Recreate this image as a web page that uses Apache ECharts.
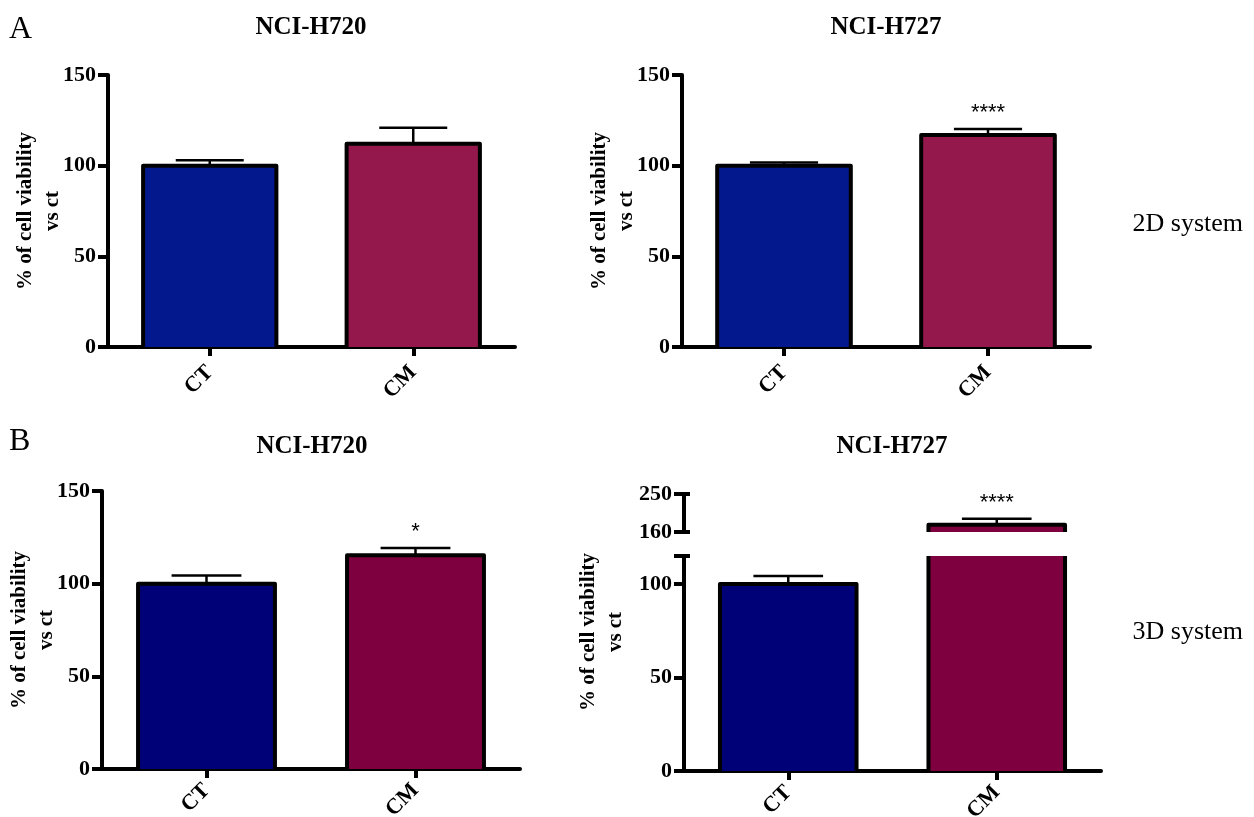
<!DOCTYPE html>
<html><head><meta charset="utf-8">
<script src="https://cdn.jsdelivr.net/npm/echarts@6/dist/echarts.min.js"></script>
<style>html,body{margin:0;padding:0;background:#fff}#c{width:1254px;height:817px}</style>
</head><body><div id="c"></div>
<script>
// ---- data ----
const categories = ['CT', 'CM'];
const yTicksMain = [0, 50, 100, 150];
const yLabelsLowerBroken = [0, 50, 100];
const yTicksLowerBroken = [0, 50, 100, 115];
const yTicksUpperBroken = [160, 250];

const h720_2D_mean = [100, 112.1];
const h720_2D_sem  = [3.0, 8.8];
const h720_2D_sig  = ['', ''];

const h727_2D_mean = [100, 116.9];
const h727_2D_sem  = [1.8, 3.3];
const h727_2D_sig  = ['', '****'];

const h720_3D_mean = [100, 115.4];
const h720_3D_sem  = [4.4, 3.9];
const h720_3D_sig  = ['', '*'];

const h727_3D_mean = [100, 177];
const h727_3D_sem  = [4.3, 14.5];
const h727_3D_sig  = ['', '****'];

const yName = '% of cell viability\nvs ct';

// ---- styles ----
const colors2D = ['#03188c', '#94184c'];
const colors3D = ['#000077', '#7f003f'];
const SERIF = '"Liberation Serif", "Times New Roman", serif';
const SANS = '"Liberation Sans", Arial, sans-serif';
const BAR_RATIO = 0.655;

function makeBarRender(colors, lo, hi) {
  return function (params, api) {
    const i = api.value(0), v = api.value(1);
    const band = api.size([1, 0])[0];
    const w = band * BAR_RATIO;
    const top = Math.min(v, hi), bot = Math.max(0, lo);
    if (top <= bot) return;
    const cx = api.coord([i, bot])[0];
    const yT = api.coord([i, top])[1], yB = api.coord([i, bot])[1];
    const x0 = cx - w / 2, x1 = cx + w / 2;
    const children = [{ type: 'rect', shape: { x: x0, y: yT, width: w, height: yB - yT }, style: { fill: colors[i] } }];
    const ls = { stroke: '#000', lineWidth: 4, fill: null, lineJoin: 'round' };
    if (v <= hi) {
      children.push({ type: 'polyline', shape: { points: [[x0, yB], [x0, yT], [x1, yT], [x1, yB]] }, style: ls });
    } else {
      children.push({ type: 'line', shape: { x1: x0, y1: yB, x2: x0, y2: yT }, style: ls });
      children.push({ type: 'line', shape: { x1: x1, y1: yB, x2: x1, y2: yT }, style: ls });
    }
    return { type: 'group', children: children };
  };
}

function makeErrRender(sig, lo, hi) {
  return function (params, api) {
    const i = api.value(0), m = api.value(1), e = api.value(2);
    if (m < lo || m > hi) return;
    const band = api.size([1, 0])[0];
    const cw = band * BAR_RATIO * 0.51;
    const p0 = api.coord([i, m]), p1 = api.coord([i, m + e]);
    const cx = p0[0];
    const ls = { stroke: '#000', lineWidth: 2.5 };
    const children = [
      { type: 'line', shape: { x1: cx, y1: p0[1], x2: cx, y2: p1[1] }, style: ls },
      { type: 'line', shape: { x1: cx - cw / 2, y1: p1[1], x2: cx + cw / 2, y2: p1[1] }, style: ls }
    ];
    if (sig[i]) {
      children.push({ type: 'text', x: cx, y: p1[1] - 16,
        style: { text: sig[i], fill: '#000', font: 'normal 22px ' + SANS, align: 'center', verticalAlign: 'middle' } });
    }
    return { type: 'group', children: children };
  };
}

function yAxisCfg(gridIndex, min, max, tickVals, labelVals, withName) {
  const cfg = {
    type: 'value', gridIndex: gridIndex, min: min, max: max, position: 'left',
    splitLine: { show: false },
    axisLine: { show: true, lineStyle: { color: '#000', width: 4 } },
    axisTick: { show: true, length: 10, lineStyle: { color: '#000', width: 4 }, customValues: tickVals },
    axisLabel: { color: '#000', fontFamily: SERIF, fontWeight: 'bold', fontSize: 22, margin: 12, customValues: labelVals }
  };
  if (withName) {
    cfg.name = yName;
    cfg.nameLocation = 'middle';
    cfg.nameGap = 42;
    cfg.nameMoveOverlap = false;
    cfg.nameTextStyle = { color: '#000', fontFamily: SERIF, fontWeight: 'bold', fontSize: 21, lineHeight: 27 };
  }
  return cfg;
}

// short inward caps marking the axis break
function breakCapAxis(gridIndex, min, max, tickVals) {
  return {
    type: 'value', gridIndex: gridIndex, min: min, max: max, position: 'left', offset: 0,
    splitLine: { show: false },
    axisLine: { show: false },
    axisTick: { show: true, inside: true, length: 6, lineStyle: { color: '#000', width: 4 }, customValues: tickVals },
    axisLabel: { show: false }
  };
}

function xAxisCfg(gridIndex, show, margin) {
  return {
    type: 'category', gridIndex: gridIndex, data: categories, show: show,
    axisLine: { show: true, onZero: false, lineStyle: { color: '#000', width: 4 } },
    axisTick: { show: true, alignWithLabel: true, length: 9, lineStyle: { color: '#000', width: 4 } },
    axisLabel: { color: '#000', fontFamily: SERIF, fontWeight: 'bold', fontSize: 22, rotate: 45, margin: margin },
    splitLine: { show: false }
  };
}

function dataOf(mean, sem) {
  return categories.map(function (c, i) { return [i, mean[i], sem[i]]; });
}

function panelSeries(axisIndex, mean, sem, sig, colors, lo, hi) {
  return [
    { type: 'custom', xAxisIndex: axisIndex, yAxisIndex: axisIndex, data: dataOf(mean, sem),
      encode: { x: 0, y: 1 }, renderItem: makeBarRender(colors, lo, hi), z: 2 },
    { type: 'custom', xAxisIndex: axisIndex, yAxisIndex: axisIndex, data: dataOf(mean, sem),
      encode: { x: 0, y: 1 }, renderItem: makeErrRender(sig, lo, hi), z: 1 }
  ];
}

function txt(text, x, y, font, align) {
  return { type: 'text', x: x, y: y, style: { text: text, fill: '#000', font: font, align: align, verticalAlign: 'middle' } };
}

function gridAt(left, top, width, height) {
  return { left: left, top: top, width: width, height: height, containLabel: false, outerBoundsMode: 'none' };
}

const option = {
  backgroundColor: '#fff',
  animation: false,
  grid: [
    gridAt(108, 75, 407, 272),
    gridAt(682, 75, 408, 272),
    gridAt(102, 491, 418, 278),
    gridAt(684, 556, 417, 215),
    gridAt(684, 494, 417, 38)
  ],
  xAxis: [xAxisCfg(0, true, 22), xAxisCfg(1, true, 22), xAxisCfg(2, true, 18), xAxisCfg(3, true, 18), xAxisCfg(4, false, 18)],
  yAxis: [
    yAxisCfg(0, 0, 150, yTicksMain, yTicksMain, true),
    yAxisCfg(1, 0, 150, yTicksMain, yTicksMain, true),
    yAxisCfg(2, 0, 150, yTicksMain, yTicksMain, true),
    yAxisCfg(3, 0, 115, yTicksLowerBroken, yLabelsLowerBroken, false),
    yAxisCfg(4, 160, 250, yTicksUpperBroken, yTicksUpperBroken, false),
    breakCapAxis(3, 0, 115, [115]),
    breakCapAxis(4, 160, 250, yTicksUpperBroken)
  ],
  series: [].concat(
    panelSeries(0, h720_2D_mean, h720_2D_sem, h720_2D_sig, colors2D, 0, 150),
    panelSeries(1, h727_2D_mean, h727_2D_sem, h727_2D_sig, colors2D, 0, 150),
    panelSeries(2, h720_3D_mean, h720_3D_sem, h720_3D_sig, colors3D, 0, 150),
    panelSeries(3, h727_3D_mean, h727_3D_sem, h727_3D_sig, colors3D, 0, 115),
    panelSeries(4, h727_3D_mean, h727_3D_sem, h727_3D_sig, colors3D, 160, 250)
  ),
  graphic: [
    txt('A', 9, 30, 'normal 32px ' + SERIF, 'left'),
    txt('B', 9, 442, 'normal 32px ' + SERIF, 'left'),
    txt('NCI-H720', 311, 28, 'bold 25px ' + SERIF, 'center'),
    txt('NCI-H727', 886, 28, 'bold 25px ' + SERIF, 'center'),
    txt('NCI-H720', 312, 447, 'bold 25px ' + SERIF, 'center'),
    txt('NCI-H727', 892, 447, 'bold 25px ' + SERIF, 'center'),
    txt('2D system', 1243, 224, 'normal 26px ' + SERIF, 'right'),
    txt('3D system', 1243, 632, 'normal 26px ' + SERIF, 'right'),
    { type: 'text', x: 602, y: 632, rotation: Math.PI / 2,
      style: { text: yName, fill: '#000', font: 'bold 21px ' + SERIF, lineHeight: 27, align: 'center', verticalAlign: 'middle' } }
  ]
};

const chart = echarts.init(document.getElementById('c'), null, { renderer: 'canvas' });
chart.setOption(option);
</script>
</body></html>
